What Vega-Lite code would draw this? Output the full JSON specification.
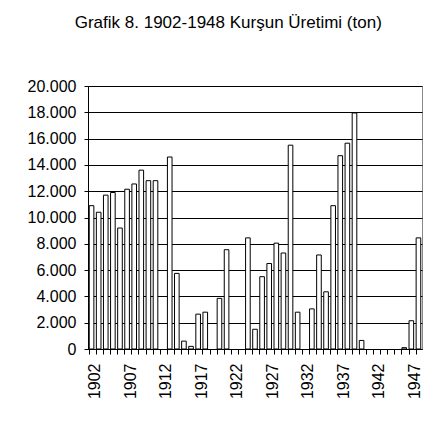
{
  "$schema": "https://vega.github.io/schema/vega-lite/v6.json",
  "width": 334,
  "height": 263,
  "autosize": {"type": "pad"},
  "padding": {"left": 27, "top": 14, "right": 13, "bottom": 5},
  "background": "white",
  "title": {
    "text": "Grafik 8. 1902-1948 Kurşun Üretimi (ton)",
    "fontSize": 17,
    "fontWeight": "normal",
    "font": "Liberation Sans",
    "color": "#000000",
    "offset": 46,
    "anchor": "middle",
    "frame": "bounds"
  },
  "data": {
    "values": [
      {"yil": 1902, "uretim": 10900},
      {"yil": 1903, "uretim": 10400},
      {"yil": 1904, "uretim": 11700},
      {"yil": 1905, "uretim": 11900},
      {"yil": 1906, "uretim": 9200},
      {"yil": 1907, "uretim": 12150},
      {"yil": 1908, "uretim": 12550},
      {"yil": 1909, "uretim": 13600},
      {"yil": 1910, "uretim": 12800},
      {"yil": 1911, "uretim": 12800},
      {"yil": 1912, "uretim": null},
      {"yil": 1913, "uretim": 14600},
      {"yil": 1914, "uretim": 5750},
      {"yil": 1915, "uretim": 600},
      {"yil": 1916, "uretim": 200},
      {"yil": 1917, "uretim": 2650},
      {"yil": 1918, "uretim": 2800},
      {"yil": 1919, "uretim": null},
      {"yil": 1920, "uretim": 3850},
      {"yil": 1921, "uretim": 7550},
      {"yil": 1922, "uretim": null},
      {"yil": 1923, "uretim": null},
      {"yil": 1924, "uretim": 8450},
      {"yil": 1925, "uretim": 1500},
      {"yil": 1926, "uretim": 5500},
      {"yil": 1927, "uretim": 6500},
      {"yil": 1928, "uretim": 8050},
      {"yil": 1929, "uretim": 7300},
      {"yil": 1930, "uretim": 15500},
      {"yil": 1931, "uretim": 2800},
      {"yil": 1932, "uretim": null},
      {"yil": 1933, "uretim": 3050},
      {"yil": 1934, "uretim": 7150},
      {"yil": 1935, "uretim": 4350},
      {"yil": 1936, "uretim": 10900},
      {"yil": 1937, "uretim": 14700},
      {"yil": 1938, "uretim": 15650},
      {"yil": 1939, "uretim": 17950},
      {"yil": 1940, "uretim": 650},
      {"yil": 1941, "uretim": null},
      {"yil": 1942, "uretim": null},
      {"yil": 1943, "uretim": null},
      {"yil": 1944, "uretim": null},
      {"yil": 1945, "uretim": null},
      {"yil": 1946, "uretim": 100},
      {"yil": 1947, "uretim": 2150},
      {"yil": 1948, "uretim": 8450}
    ]
  },
  "mark": {"type": "bar", "fill": "white", "stroke": "black", "strokeWidth": 1},
  "encoding": {
    "x": {
      "field": "yil",
      "type": "ordinal",
      "scale": {
        "domain": [1902, 1903, 1904, 1905, 1906, 1907, 1908, 1909, 1910, 1911, 1912, 1913, 1914, 1915, 1916, 1917, 1918, 1919, 1920, 1921, 1922, 1923, 1924, 1925, 1926, 1927, 1928, 1929, 1930, 1931, 1932, 1933, 1934, 1935, 1936, 1937, 1938, 1939, 1940, 1941, 1942, 1943, 1944, 1945, 1946, 1947, 1948],
        "paddingInner": 0.35,
        "paddingOuter": 0.175
      },
      "axis": {
        "title": null,
        "bandPosition": 0,
        "labelOffset": 3.55,
        "labelAngle": -90,
        "labelExpr": "(datum.value - 1902) % 5 == 0 ? datum.value : ''",
        "labelOverlap": false,
        "tickSize": 5,
        "labelPadding": 9,
        "labelFontSize": 16,
        "labelFont": "Liberation Sans",
        "labelColor": "#000000",
        "tickColor": "#000000",
        "domainColor": "#000000",
        "grid": false
      }
    },
    "y": {
      "field": "uretim",
      "type": "quantitative",
      "scale": {"domain": [0, 20000], "nice": false},
      "axis": {
        "title": null,
        "values": [0, 2000, 4000, 6000, 8000, 10000, 12000, 14000, 16000, 18000, 20000],
        "labelExpr": "replace(format(datum.value, ','), ',', '.')",
        "grid": true,
        "gridColor": "#000000",
        "gridOpacity": 1,
        "tickSize": 4,
        "labelPadding": 8,
        "labelFontSize": 16,
        "labelFont": "Liberation Sans",
        "labelColor": "#000000",
        "tickColor": "#000000",
        "domainColor": "#000000"
      }
    }
  },
  "config": {"view": {"stroke": "#888888"}}
}
